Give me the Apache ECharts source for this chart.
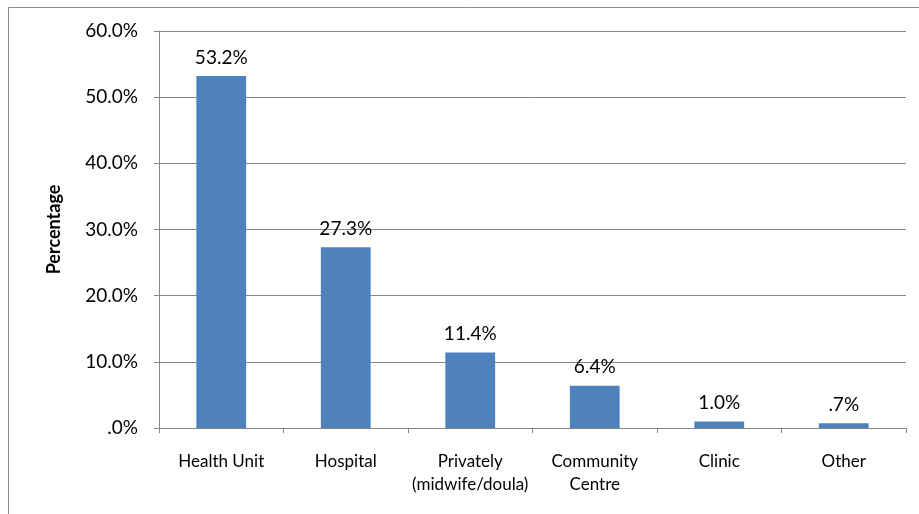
<!DOCTYPE html>
<html><head><meta charset="utf-8">
<script src="https://cdn.jsdelivr.net/npm/echarts@6/dist/echarts.min.js"></script>
<style>html,body{margin:0;padding:0;background:#fff}#c{width:919px;height:514px}</style>
</head><body><div id="c"></div>
<script>
const categories = ['Health Unit', 'Hospital', 'Privately\n(midwife/doula)', 'Community\nCentre', 'Clinic', 'Other'];
const values = [53.2, 27.3, 11.4, 6.4, 1.0, 0.7];
const yTicks = [0, 10, 20, 30, 40, 50, 60];

function pct(v) {
  const s = v.toFixed(1);
  return (s.startsWith('0') ? s.slice(1) : s) + '%';
}
const font = 'Lato, "Open Sans", sans-serif';
const chart = echarts.init(document.getElementById('c'), null, {renderer: 'canvas'});
chart.setOption({
  animation: false,
  backgroundColor: '#fff',
  graphic: [{
    type: 'rect', silent: true,
    shape: {x: 8.5, y: 7.5, width: 1000, height: 1000},
    style: {fill: 'none', stroke: '#8c8c8c', lineWidth: 1}
  }],
  grid: {left: 159, right: 13, top: 31, bottom: 86, containLabel: false},
  xAxis: {
    type: 'category', data: categories,
    axisLine: {lineStyle: {color: '#868686', width: 1}},
    axisTick: {show: true, length: 5, alignWithLabel: false, lineStyle: {color: '#868686'}},
    axisLabel: {color: '#000', fontFamily: font, fontSize: 17, margin: 22, lineHeight: 23, interval: 0}
  },
  yAxis: {
    type: 'value', min: yTicks[0], max: yTicks[yTicks.length - 1], interval: 10,
    name: 'Percentage', nameLocation: 'middle', nameGap: 96, nameRotate: 90,
    nameTextStyle: {color: '#000', fontFamily: font, fontSize: 18, fontWeight: 'bold'},
    axisLine: {show: true, lineStyle: {color: '#868686', width: 1}},
    axisTick: {show: true, length: 5, lineStyle: {color: '#868686'}},
    splitLine: {show: true, lineStyle: {color: '#868686', width: 1}},
    axisLabel: {color: '#000', fontFamily: font, fontSize: 19, margin: 21, formatter: v => pct(v)}
  },
  series: [{
    type: 'bar', data: values, barCategoryGap: '60%',
    itemStyle: {color: '#4F81BD'},
    label: {show: true, position: 'top', distance: 9, color: '#000', fontFamily: font, fontSize: 19,
      formatter: p => pct(p.value)}
  }]
});
</script></body></html>
